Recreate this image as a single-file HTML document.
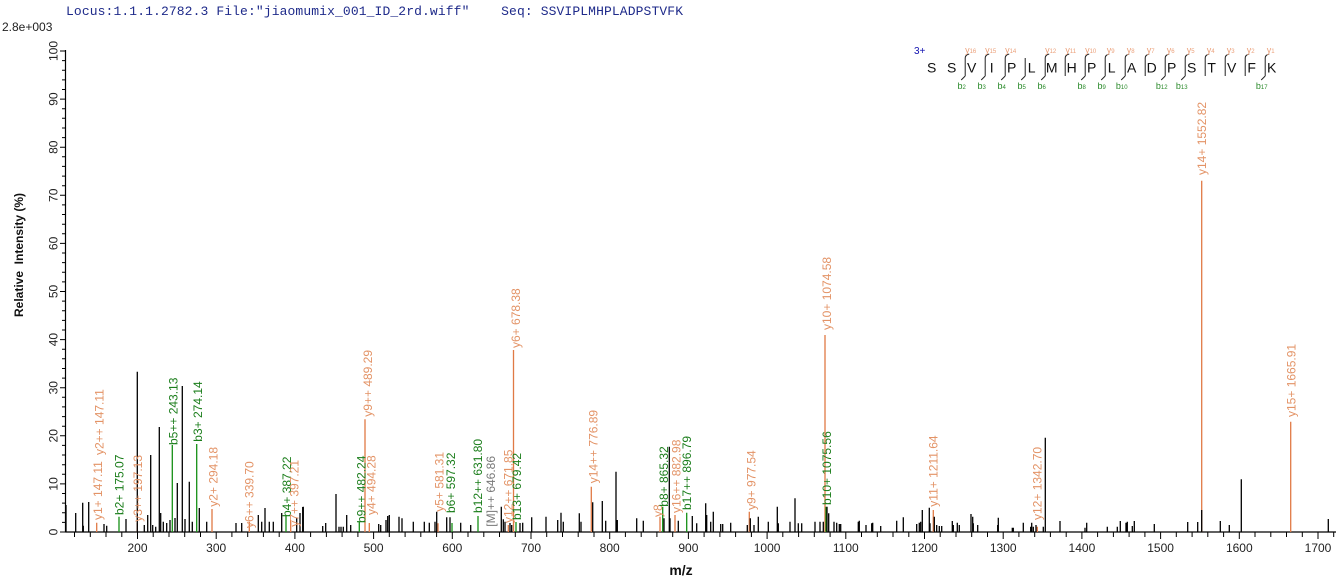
<!DOCTYPE html>
<html><head><meta charset="utf-8"><style>
html,body{margin:0;padding:0;background:#fff;}
svg{display:block;}
text{font-family:"Liberation Sans",Arial,sans-serif;}
</style></head><body>
<svg width="1339" height="579" viewBox="0 0 1339 579" xmlns="http://www.w3.org/2000/svg">
<rect width="1339" height="579" fill="#fff"/>
<text x="66" y="15" font-size="13" fill="#1e2a8a" textLength="617" lengthAdjust="spacing" xml:space="preserve" style="font-family:'Liberation Mono',monospace">Locus:1.1.1.2782.3 File:"jiaomumix_001_ID_2rd.wiff"    Seq: SSVIPLMHPLADPSTVFK</text>
<text x="2" y="31" font-size="12" fill="#222">2.8e+003</text>
<text transform="translate(23,255) rotate(-90)" text-anchor="middle" font-size="12" font-weight="bold" fill="#111" xml:space="preserve">Relative  Intensity (%)</text>
<text x="681" y="575" text-anchor="middle" font-size="14" font-weight="bold" fill="#111">m/z</text>

<!-- axes -->
<path d="M65.5 50V532M65.5 532H1336" stroke="#000" stroke-width="1.2" fill="none"/>
<!-- y ticks -->
<path stroke="#000" stroke-width="1" fill="none" d="M60 532H65.5M62 522.4H65.5M62 512.8H65.5M62 503.1H65.5M62 493.5H65.5M60 483.9H65.5M62 474.3H65.5M62 464.7H65.5M62 455H65.5M62 445.4H65.5M60 435.8H65.5M62 426.2H65.5M62 416.6H65.5M62 406.9H65.5M62 397.3H65.5M60 387.7H65.5M62 378.1H65.5M62 368.5H65.5M62 358.8H65.5M62 349.2H65.5M60 339.6H65.5M62 330H65.5M62 320.4H65.5M62 310.7H65.5M62 301.1H65.5M60 291.5H65.5M62 281.9H65.5M62 272.3H65.5M62 262.6H65.5M62 253H65.5M60 243.4H65.5M62 233.8H65.5M62 224.2H65.5M62 214.5H65.5M62 204.9H65.5M60 195.3H65.5M62 185.7H65.5M62 176.1H65.5M62 166.4H65.5M62 156.8H65.5M60 147.2H65.5M62 137.6H65.5M62 128H65.5M62 118.3H65.5M62 108.7H65.5M60 99.1H65.5M62 89.5H65.5M62 79.9H65.5M62 70.2H65.5M62 60.6H65.5M60 51H65.5"/>
<!-- x ticks -->
<path stroke="#000" stroke-width="1" fill="none" d="M74.5 532V537M90.3 532V537M106 532V537M121.8 532V537M137.5 532V539M153.2 532V537M169 532V537M184.7 532V537M200.5 532V537M216.2 532V539M231.9 532V537M247.7 532V537M263.4 532V537M279.2 532V537M294.9 532V539M310.6 532V537M326.4 532V537M342.1 532V537M357.9 532V537M373.6 532V539M389.3 532V537M405.1 532V537M420.8 532V537M436.6 532V537M452.3 532V539M468 532V537M483.8 532V537M499.5 532V537M515.3 532V537M531 532V539M546.7 532V537M562.5 532V537M578.2 532V537M594 532V537M609.7 532V539M625.4 532V537M641.2 532V537M656.9 532V537M672.7 532V537M688.4 532V539M704.1 532V537M719.9 532V537M735.6 532V537M751.4 532V537M767.1 532V539M782.8 532V537M798.6 532V537M814.3 532V537M830.1 532V537M845.8 532V539M861.5 532V537M877.3 532V537M893 532V537M908.8 532V537M924.5 532V539M940.2 532V537M956 532V537M971.7 532V537M987.5 532V537M1003.2 532V539M1018.9 532V537M1034.7 532V537M1050.4 532V537M1066.2 532V537M1081.9 532V539M1097.6 532V537M1113.4 532V537M1129.1 532V537M1144.9 532V537M1160.6 532V539M1176.3 532V537M1192.1 532V537M1207.8 532V537M1223.6 532V537M1239.3 532V539M1255 532V537M1270.8 532V537M1286.5 532V537M1302.3 532V537M1318 532V539M1333.7 532V537"/>

<!-- y tick labels -->
<g font-size="12" fill="#222" text-anchor="middle">
<text transform="translate(57.5,532) rotate(-90)">0</text>
<text transform="translate(57.5,483.9) rotate(-90)">10</text>
<text transform="translate(57.5,435.8) rotate(-90)">20</text>
<text transform="translate(57.5,387.7) rotate(-90)">30</text>
<text transform="translate(57.5,339.6) rotate(-90)">40</text>
<text transform="translate(57.5,291.5) rotate(-90)">50</text>
<text transform="translate(57.5,243.4) rotate(-90)">60</text>
<text transform="translate(57.5,195.3) rotate(-90)">70</text>
<text transform="translate(57.5,147.2) rotate(-90)">80</text>
<text transform="translate(57.5,99.1) rotate(-90)">90</text>
<text transform="translate(57.5,51) rotate(-90)">100</text>
</g>
<!-- x tick labels -->
<g font-size="12" fill="#222" text-anchor="middle">
<text x="137.5" y="552">200</text>
<text x="216.2" y="552">300</text>
<text x="294.9" y="552">400</text>
<text x="373.6" y="552">500</text>
<text x="452.3" y="552">600</text>
<text x="531" y="552">700</text>
<text x="609.7" y="552">800</text>
<text x="688.4" y="552">900</text>
<text x="767.1" y="552">1000</text>
<text x="845.8" y="552">1100</text>
<text x="924.5" y="552">1200</text>
<text x="1003.2" y="552">1300</text>
<text x="1081.9" y="552">1400</text>
<text x="1160.6" y="552">1500</text>
<text x="1239.3" y="552">1600</text>
<text x="1318" y="552">1700</text>
</g>

<!-- orange peaks -->
<path stroke="#e07a45" stroke-width="1.3" fill="none" d="M96.7 532V522.7M137.3 532V523M212 532V509M249.3 532V521.7M290.7 532V520M365 532V419.3M369.3 532V523M438 532V523.3M508.3 532V525M513.5 532V350M591.3 532V486.7M660 532V516.7M675 532V515M749.3 532V511.7M825 532V335M933.3 532V510M1037.3 532V526.7M1201.7 532V180.7M1290.7 532V421.7"/>
<!-- green peaks -->
<path stroke="#169016" stroke-width="1.3" fill="none" d="M119 532V516.7M172.3 532V445M196.7 532V444M286 532V515M359.3 532V521.7M452 532V523M478 532V516M516 532V522M662.7 532V506.7M686.7 532V512.7M826 532V506.7"/>
<!-- black peaks -->
<path stroke="#000" stroke-width="1.3" fill="none" d="M66 532V505M75.7 532V513M82.7 532V502.7M83.3 532V525.7M88.7 532V502M104 532V524M106.7 532V525.7M126 532V519M137.3 532V371.7M144.3 532V525M147.7 532V515M150.7 532V455M152.7 532V525M155.7 532V526.7M159.3 532V427M160.7 532V513M163.3 532V521.7M166.7 532V523M170 532V520M175 532V518M177.3 532V483M182.3 532V386M185 532V519M189.3 532V481.7M192.3 532V521.7M199.3 532V508M206.7 532V521.7M236 532V523M241.7 532V523M258.3 532V515M261.7 532V521.7M265 532V508M269.3 532V521.7M273.3 532V521.7M281.7 532V513M296.7 532V518M300 532V513M302.7 532V507M303.3 532V506.7M322.7 532V526M325.7 532V523M336 532V494M339 532V526.7M341 532V526.7M343.3 532V526.7M346.7 532V515M350.7 532V525M378.7 532V524M380.7 532V525M386 532V520M387.7 532V516M389.3 532V515M399 532V516.7M402 532V518.3M413.3 532V521.7M424.3 532V521.7M429.3 532V522.7M435 532V521.7M436.7 532V511.7M446.7 532V517.3M450 532V517.3M460.7 532V522.7M470.7 532V525M501.3 532V506.7M503.3 532V519.3M505 532V521.7M510 532V523M511.7 532V525M520 532V523M522.7 532V522.7M531.7 532V517.3M546 532V516.7M557.7 532V520M561 532V512.7M563.3 532V521.7M579.3 532V513.3M581 532V521.7M592.7 532V502.3M602.3 532V501M605.7 532V520.7M616 532V471.7M617.3 532V520M636.7 532V518.3M643.3 532V520.7M664 532V518.3M669.3 532V446.7M670 532V518.3M678.3 532V520.7M692.3 532V516M696.7 532V523.3M705.7 532V503.3M706.7 532V515M710.7 532V521.7M713.3 532V511.7M720.7 532V524M722.7 532V524M730.7 532V522.7M747.3 532V525M750.3 532V518.3M754 532V525M758.3 532V516.7M768.3 532V521.7M777.3 532V506.7M778.3 532V523.3M790 532V521.7M795 532V498.3M798.3 532V523.3M801.7 532V523.3M815 532V521.7M820 532V521.7M823.3 532V521.7M827 532V506.7M828.7 532V513.3M834 532V521.7M836.7 532V522.7M839.3 532V524M840.7 532V524M858.3 532V521.7M859.3 532V520.7M866 532V525M871.7 532V523.3M872.7 532V522.7M880.7 532V526M896.7 532V520.7M903.3 532V517.3M916.7 532V524M919.3 532V522.7M920.7 532V521.7M922.3 532V510M929.3 532V507.7M930 532V523.3M934.3 532V516.7M936.7 532V525M939.3 532V526M941.7 532V526M952.3 532V521M953.3 532V525M957.3 532V522.7M959.3 532V525M971 532V514M972.7 532V516.7M973.3 532V523.3M977.7 532V525M997.7 532V525M998.3 532V517.7M1012.3 532V527.7M1013.3 532V527.7M1023.3 532V522.7M1030.7 532V526.7M1031.7 532V522.7M1033.3 532V526.7M1036 532V525M1043.3 532V526.7M1045.3 532V437.7M1060 532V521M1085 532V527.7M1086.7 532V522.7M1107.3 532V526.7M1117.3 532V526.7M1120.3 532V521M1126 532V522.7M1127.3 532V521.7M1132.3 532V526M1134.3 532V521M1154.3 532V524M1187.7 532V522M1197.7 532V522M1201.7 532V510M1220.3 532V521M1229.3 532V525M1241.3 532V479.3M1328.3 532V519"/>

<!-- peak labels -->
<g font-size="12">
<text transform="translate(102,520) rotate(-90)" fill="#e39366">y1+ 147.11</text>
<text transform="translate(103.6,455) rotate(-90)" fill="#e39366">y2++ 147.11</text>
<text transform="translate(123.6,515) rotate(-90)" fill="#1a7d1a">b2+ 175.07</text>
<text transform="translate(142,521.7) rotate(-90)" fill="#e39366">y3++ 197.13</text>
<text transform="translate(177.6,445) rotate(-90)" fill="#1a7d1a">b5++ 243.13</text>
<text transform="translate(202,441.7) rotate(-90)" fill="#1a7d1a">b3+ 274.14</text>
<text transform="translate(217.6,506.7) rotate(-90)" fill="#e39366">y2+ 294.18</text>
<text transform="translate(253.6,528) rotate(-90)" fill="#e39366">y6++ 339.70</text>
<text transform="translate(291,517) rotate(-90)" fill="#1a7d1a">b4+ 387.22</text>
<text transform="translate(298.6,526.7) rotate(-90)" fill="#e39366">y7++ 397.21</text>
<text transform="translate(365.3,523) rotate(-90)" fill="#1a7d1a">b9++ 482.24</text>
<text transform="translate(371.8,416.7) rotate(-90)" fill="#e39366">y9++ 489.29</text>
<text transform="translate(375.3,515) rotate(-90)" fill="#e39366">y4+ 494.28</text>
<text transform="translate(443.6,511.7) rotate(-90)" fill="#e39366">y5+ 581.31</text>
<text transform="translate(455,513) rotate(-90)" fill="#1a7d1a">b6+ 597.32</text>
<text transform="translate(482,513) rotate(-90)" fill="#1a7d1a">b12++ 631.80</text>
<text transform="translate(495,526.7) rotate(-90)" fill="#777">[M]++ 646.86</text>
<text transform="translate(512.6,523) rotate(-90)" fill="#e39366">y12++ 671.85</text>
<text transform="translate(521,520) rotate(-90)" fill="#1a7d1a">b13+ 679.42</text>
<text transform="translate(520,348) rotate(-90)" fill="#e39366">y6+ 678.38</text>
<text transform="translate(597.6,483.3) rotate(-90)" fill="#e39366">y14++ 776.89</text>
<text transform="translate(661.8,517) rotate(-90)" fill="#e39366">y8</text>
<text transform="translate(667.8,506.7) rotate(-90)" fill="#1a7d1a">b8+ 865.32</text>
<text transform="translate(680.3,513) rotate(-90)" fill="#e39366">y16++ 882.98</text>
<text transform="translate(691,510) rotate(-90)" fill="#1a7d1a">b17++ 896.79</text>
<text transform="translate(755.3,510) rotate(-90)" fill="#e39366">y9+ 977.54</text>
<text transform="translate(831,505) rotate(-90)" fill="#1a7d1a">b10+ 1075.56</text>
<text transform="translate(831,330) rotate(-90)" fill="#e39366">y10+ 1074.58</text>
<text transform="translate(937.6,506.7) rotate(-90)" fill="#e39366">y11+ 1211.64</text>
<text transform="translate(1041.6,520) rotate(-90)" fill="#e39366">y12+ 1342.70</text>
<text transform="translate(1206,175) rotate(-90)" fill="#e39366">y14+ 1552.82</text>
<text transform="translate(1295.3,417) rotate(-90)" fill="#e39366">y15+ 1665.91</text>
</g>

<!-- sequence annotation -->
<text x="914" y="54" font-size="10" fill="#1010b0">3+</text>
<g font-size="14" fill="#111" text-anchor="middle">
<text x="931.7" y="72.5">S</text>
<text x="951.7" y="72.5">S</text>
<text x="971.7" y="72.5">V</text>
<text x="991.7" y="72.5">I</text>
<text x="1011.7" y="72.5">P</text>
<text x="1031.7" y="72.5">L</text>
<text x="1051.7" y="72.5">M</text>
<text x="1071.7" y="72.5">H</text>
<text x="1091.7" y="72.5">P</text>
<text x="1111.7" y="72.5">L</text>
<text x="1131.7" y="72.5">A</text>
<text x="1151.7" y="72.5">D</text>
<text x="1171.7" y="72.5">P</text>
<text x="1191.7" y="72.5">S</text>
<text x="1211.7" y="72.5">T</text>
<text x="1231.7" y="72.5">V</text>
<text x="1251.7" y="72.5">F</text>
<text x="1271.7" y="72.5">K</text>
</g>
<path stroke="#222" stroke-width="1" fill="none" d="M965.2 58V76M965.2 58Q965.2 55 969.2 54M965.2 76L961.2 80M985.2 58V76M985.2 58Q985.2 55 989.2 54M985.2 76L981.2 80M1005.2 58V76M1005.2 58Q1005.2 55 1009.2 54M1005.2 76L1001.2 80M1025.2 58V76M1025.2 76L1021.2 80M1045.2 58V76M1045.2 58Q1045.2 55 1049.2 54M1045.2 76L1041.2 80M1065.2 58V76M1065.2 58Q1065.2 55 1069.2 54M1085.2 58V76M1085.2 58Q1085.2 55 1089.2 54M1085.2 76L1081.2 80M1105.2 58V76M1105.2 58Q1105.2 55 1109.2 54M1105.2 76L1101.2 80M1125.2 58V76M1125.2 58Q1125.2 55 1129.2 54M1125.2 76L1121.2 80M1145.2 58V76M1145.2 58Q1145.2 55 1149.2 54M1165.2 58V76M1165.2 58Q1165.2 55 1169.2 54M1165.2 76L1161.2 80M1185.2 58V76M1185.2 58Q1185.2 55 1189.2 54M1185.2 76L1181.2 80M1205.2 58V76M1205.2 58Q1205.2 55 1209.2 54M1225.2 58V76M1225.2 58Q1225.2 55 1229.2 54M1245.2 58V76M1245.2 58Q1245.2 55 1249.2 54M1265.2 58V76M1265.2 58Q1265.2 55 1269.2 54M1265.2 76L1261.2 80"/>
<g font-size="9" fill="#eba07a" text-anchor="middle">
<text x="970.7" y="53">y<tspan font-size="6">16</tspan></text>
<text x="990.7" y="53">y<tspan font-size="6">15</tspan></text>
<text x="1010.7" y="53">y<tspan font-size="6">14</tspan></text>
<text x="1050.7" y="53">y<tspan font-size="6">12</tspan></text>
<text x="1070.7" y="53">y<tspan font-size="6">11</tspan></text>
<text x="1090.7" y="53">y<tspan font-size="6">10</tspan></text>
<text x="1110.7" y="53">y<tspan font-size="6">9</tspan></text>
<text x="1130.7" y="53">y<tspan font-size="6">8</tspan></text>
<text x="1150.7" y="53">y<tspan font-size="6">7</tspan></text>
<text x="1170.7" y="53">y<tspan font-size="6">6</tspan></text>
<text x="1190.7" y="53">y<tspan font-size="6">5</tspan></text>
<text x="1210.7" y="53">y<tspan font-size="6">4</tspan></text>
<text x="1230.7" y="53">y<tspan font-size="6">3</tspan></text>
<text x="1250.7" y="53">y<tspan font-size="6">2</tspan></text>
<text x="1270.7" y="53">y<tspan font-size="6">1</tspan></text>
</g>
<g font-size="9" fill="#2a8a2a" text-anchor="middle">
<text x="961.7" y="89">b<tspan font-size="6">2</tspan></text>
<text x="981.7" y="89">b<tspan font-size="6">3</tspan></text>
<text x="1001.7" y="89">b<tspan font-size="6">4</tspan></text>
<text x="1021.7" y="89">b<tspan font-size="6">5</tspan></text>
<text x="1041.7" y="89">b<tspan font-size="6">6</tspan></text>
<text x="1081.7" y="89">b<tspan font-size="6">8</tspan></text>
<text x="1101.7" y="89">b<tspan font-size="6">9</tspan></text>
<text x="1121.7" y="89">b<tspan font-size="6">10</tspan></text>
<text x="1161.7" y="89">b<tspan font-size="6">12</tspan></text>
<text x="1181.7" y="89">b<tspan font-size="6">13</tspan></text>
<text x="1261.7" y="89">b<tspan font-size="6">17</tspan></text>
</g>
</svg>
</body></html>
